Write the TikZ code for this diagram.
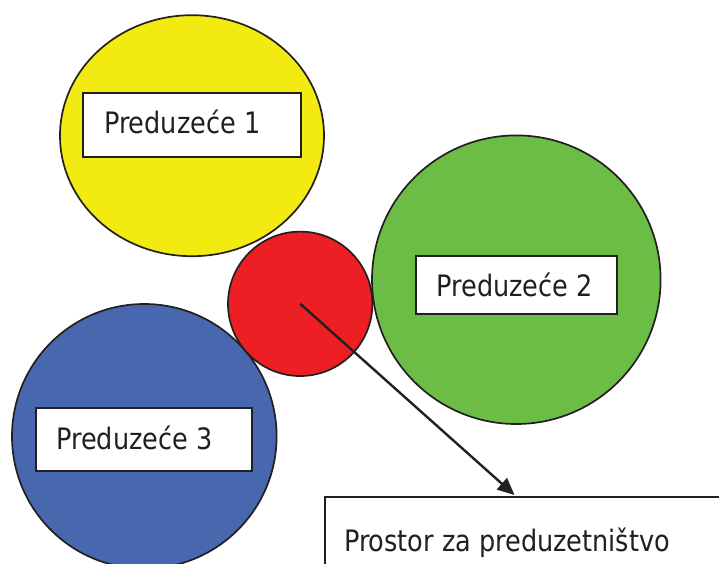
\documentclass[tikz,border=0pt]{standalone}
\usepackage{fontspec}
\setmainfont[FakeStretch=0.962]{DejaVu Sans Condensed}
\usetikzlibrary{shapes.geometric,arrows.meta}
\definecolor{cyellow}{RGB}{242,234,16}
\definecolor{cgreen}{RGB}{107,189,69}
\definecolor{cblue}{RGB}{71,103,175}
\definecolor{cred}{RGB}{237,31,36}
\definecolor{ink}{RGB}{35,31,32}
\tikzset{
  disc/.style={circle, draw=ink, line width=1.7pt, inner sep=0pt},
  labelbox/.style={rectangle, draw=ink, fill=white, line width=1.8pt, inner sep=0pt},
  labeltext/.style={anchor=base west, inner sep=0pt, text=ink,
    font=\fontsize{29.5}{35}\selectfont},
  pointer/.style={draw=ink, line width=2.4pt, -{Triangle[length=17pt,width=15pt]}}
}
\begin{document}
\begin{tikzpicture}[x=1pt,y=-1pt]
  \useasboundingbox (0,0) rectangle (719,563);
  \clip (0,0) rectangle (719,563);

  % companies
  \node[disc, ellipse, fill=cyellow, minimum width=264pt, minimum height=241pt] (firm1) at (192,135.7) {};
  \node[disc, fill=cgreen, minimum size=288.6pt] (firm2) at (516.3,279.7) {};
  \node[disc, fill=cblue, minimum size=264.6pt] (firm3) at (144.3,436.3) {};
  \node[disc, fill=cred, minimum size=144.4pt] (space) at (300.2,303.8) {};

  % name plates
  \node[labelbox, minimum width=217.4pt, minimum height=64.6pt] (box1) at (192,125) {};
  \node[labeltext] (t1) at (104,133.3) {Preduzeće 1};
  \node[labelbox, minimum width=201.3pt, minimum height=58.3pt] (box2) at (516.7,284.9) {};
  \node[labeltext] (t2) at (436.3,296.7) {Preduzeće 2};
  \node[labelbox, minimum width=216.3pt, minimum height=62.7pt] (box3) at (144.2,439.7) {};
  \node[labeltext] (t3) at (56.3,449.3) {Preduzeće 3};

  % caption box running off the page
  \node[labelbox, anchor=north west, minimum width=450pt, minimum height=120pt] (box4) at (324,495.7) {};
  \node[labeltext] (t4) at (344,551.7) {Prostor za preduzetništvo};

  % pointer from the shared space to its caption
  \coordinate (tip) at (514.5,495);
  \draw[pointer] (space.center) -- (tip);
\end{tikzpicture}
\end{document}
